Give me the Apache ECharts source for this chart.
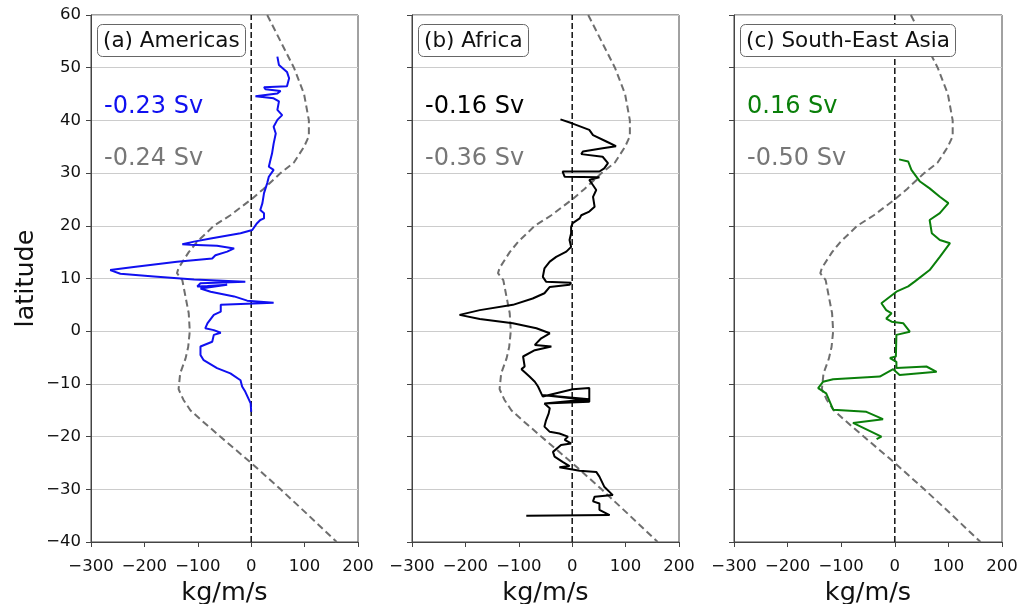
<!DOCTYPE html>
<html>
<head>
<meta charset="utf-8">
<script src="https://cdn.jsdelivr.net/npm/echarts@6/dist/echarts.min.js"></script>
<style>
html,body{margin:0;padding:0;background:#fff;}
#chart{width:1033px;height:604px;}
</style>
</head>
<body>
<div id="chart"></div>
<script>
// Shared climatology (grey dashed) profile
const climLat = [60,55,50,45,40,37,35,32,30,27,25,22,20,17,15,12,11,9.7,6,3.4,0,-3,-5.2,-8,-11,-13,-15,-17,-20,-25,-30,-35,-40];
const climVal = [30,55,80,99,108,108,99,80,55,23,0,-39,-70,-101,-117,-136,-139,-129,-122,-117,-115,-118,-123,-133,-136,-127,-114,-92,-58,0,55,108,160];

// (a) Americas
const amLat = [52.1,50.5,49.2,48,46.5,46.3,45.9,45.6,45.1,44.6,44.2,43.6,42,41,40.1,38.8,37.5,35.6,33.7,32.5,31.2,30.6,29.3,28.1,26.2,24.3,23,22.4,21.4,21.1,20.5,19.2,18.6,17.6,17,16.5,16.4,16.2,15.7,15.4,15.1,14.4,13.8,13.2,12.2,11.6,11.3,10.9,10.4,9.8,9.4,9.1,8.5,8.6,8.8,8.1,7.5,6.6,5.8,5.4,5.0,3.7,3.1,1.5,0.55,0.2,-0.3,-0.7,-2,-2.9,-4.5,-5.5,-7.0,-8,-9.3,-10.5,-11.5,-13.7,-15.3];
const amVal = [49,52,67,71,67,24,27,55,49,8,42,52,49,58,49,42,46,42,39,36,33,42,33,30,24,21,17,24,24,17,11,2,-20,-76,-107,-129,-114,-64,-32,-29,-45,-67,-73,-139,-220,-264,-267,-245,-182,-107,-11,-95,-101,-82,-45,-95,-76,-32,-7.5,42,-57,-57,-70,-82,-86,-70,-57,-70,-73,-95,-95,-89,-64,-39,-20,-17,-11,-1,0];

// (b) Africa
const afLat = [40.2,39.4,38.2,37.2,36,35.1,34.7,34.1,33.6,33.1,31.9,30.9,30.3,30.3,29.3,29.2,28.7,27.7,26.8,25.5,23.6,22.7,22.0,21.4,20.5,19.8,18.6,17.3,16,15.1,14.1,13.2,11.9,10.3,9.4,9.2,8.8,8.4,7.2,6.2,5.0,4.0,3.1,2.3,1.5,0.55,-0.4,-1.35,-2.6,-2.9,-3.6,-4.8,-6.7,-7.2,-8.6,-9.6,-10.5,-11.8,-12.4,-11.0,-10.8,-13.4,-13.7,-12.9,-12.1,-13.1,-13.7,-14.6,-15.6,-16.9,-18.1,-19.1,-19.4,-20,-20.6,-21.3,-21.6,-22.9,-23.8,-24.8,-25.6,-25.8,-26.5,-26.7,-27.6,-29.5,-31.1,-31.4,-32.3,-32.7,-33.9,-34.9,-35];
const afVal = [-22,1,32,39,64,82,57,20,17,57,67,60,51,-18,-14,51,32,39,45,39,42,32,17,14,1,-2,-2,-5,-2,-11,-30,-42,-52,-55,-49,-2,-5,-42,-52,-74,-111,-173,-211,-173,-111,-67,-42,-58,-70,-39,-70,-92,-89,-95,-80,-70,-64,-58,-55,1,32,32,-52,32,-56,32,-52,-42,-44,-49,-52,-42,-24,-8,-14,-2,-21,-36,-33,-18,-5,-24,14,45,51,60,76,42,39,51,51,70,-86];

// (c) South-East Asia
const seaLat = [32.6,32.2,30.6,28.4,27.1,25.5,24.3,22.4,21.1,18.6,17.3,16.7,14.1,11.6,9.4,8.5,7.5,5.3,4.0,3.4,2.4,1.8,1.5,-0.1,-0.7,-4.8,-5.1,-5.8,-7.0,-6.7,-7.7,-8.3,-7.2,-8.6,-9.1,-9.6,-10.8,-11.8,-14.9,-15.3,-16.7,-17.4,-20,-20.5];
const seaVal = [8,25,31,47,65,84,100,84,65,69,84,103,84,65,37,25,3,-25,-16,-6,-16,-6,16,28,3,2,-9,3,3,59,78,9,-3,-28,-115,-134,-143,-128,-115,-53,-22,-78,-25,-34];

const xTicks = [-300,-200,-100,0,100,200];
const yTicks = [-40,-30,-20,-10,0,10,20,30,40,50,60];

const panelTitles = ['(a) Americas','(b) Africa','(c) South-East Asia'];
const svTexts = ['-0.23 Sv','-0.16 Sv','0.16 Sv'];
const svClimTexts = ['-0.24 Sv','-0.36 Sv','-0.50 Sv'];
const lineColors = ['#1010f0','#000000','#0a7f0a'];

const zip = (v, l) => v.map((x, i) => [x, l[i]]);
const profiles = [zip(amVal, amLat), zip(afVal, afLat), zip(seaVal, seaLat)];
const clim = zip(climVal, climLat);

const FONT = 'DejaVu Sans';
const gridLefts = [91, 412, 734];
const gridWidths = [267, 267, 268];
const minus = v => String(v).replace('-', '\u2212');

const grids = [], xAxes = [], yAxes = [], series = [], titles = [];
for (let i = 0; i < 3; i++) {
  grids.push({left: gridLefts[i], top: 15, width: gridWidths[i], height: 527, containLabel: false, outerBoundsMode: 'none',
    show: true, borderColor: '#444', borderWidth: 1, backgroundColor: 'transparent'});
  xAxes.push({
    type: 'value', gridIndex: i, min: xTicks[0], max: xTicks[xTicks.length-1], interval: 100,
    name: 'kg/m/s', nameLocation: 'middle', nameGap: 35,
    nameTextStyle: {fontFamily: FONT, fontSize: 25.5, color: '#111'},
    axisLine: {show: true, onZero: false, lineStyle: {color: '#444', width: 1}},
    axisTick: {show: true, inside: false, length: 5, lineStyle: {color: '#444'}},
    axisLabel: {fontFamily: FONT, fontSize: 16.5, color: '#111', margin: 16, formatter: minus},
    splitLine: {show: false}
  });
  yAxes.push({
    type: 'value', gridIndex: i, min: yTicks[0], max: yTicks[yTicks.length-1], interval: 10,
    name: i === 0 ? 'latitude' : '', nameLocation: 'middle', nameGap: 52,
    nameTextStyle: {fontFamily: FONT, fontSize: 25.5, color: '#111'},
    axisLine: {show: true, onZero: false, lineStyle: {color: '#444', width: 1}},
    axisTick: {show: true, inside: false, length: 5, lineStyle: {color: '#444'}},
    axisLabel: {show: i === 0, fontFamily: FONT, fontSize: 16.5, color: '#111', margin: 10, formatter: minus},
    splitLine: {show: true, lineStyle: {color: '#cccccc', width: 1}}
  });
  series.push({
    type: 'line', xAxisIndex: i, yAxisIndex: i, data: clim, symbol: 'none', smooth: false,
    lineStyle: {color: '#6e6e6e', width: 2, type: [7, 4]}, z: 2, silent: true
  });
  series.push({
    type: 'line', xAxisIndex: i, yAxisIndex: i, data: [[0, yTicks[0]], [0, yTicks[yTicks.length-1]]], symbol: 'none',
    lineStyle: {color: '#111', width: 1.5, type: [6, 3]}, z: 3, silent: true
  });
  series.push({
    type: 'line', xAxisIndex: i, yAxisIndex: i, data: profiles[i], symbol: 'none', smooth: false,
    lineStyle: {color: lineColors[i], width: 2}, z: 4, silent: true
  });
  titles.push({
    text: panelTitles[i], left: gridLefts[i] + 6, top: 24,
    padding: [6, 6, 5, 6], borderColor: '#666', borderWidth: 1, borderRadius: 5, backgroundColor: '#fff',
    textStyle: {fontFamily: FONT, fontSize: 21.5, fontWeight: 'normal', color: '#111'}
  });
  titles.push({
    text: svTexts[i], left: gridLefts[i] + 13, top: 95, padding: 0,
    textStyle: {fontFamily: FONT, fontSize: 24, fontWeight: 'normal', color: lineColors[i]}
  });
  titles.push({
    text: svClimTexts[i], left: gridLefts[i] + 13, top: 147, padding: 0,
    textStyle: {fontFamily: FONT, fontSize: 24, fontWeight: 'normal', color: '#777'}
  });
}

const chart = echarts.init(document.getElementById('chart'), null, {renderer: 'canvas'});
chart.setOption({
  animation: false,
  backgroundColor: '#fff',
  title: titles,
  grid: grids,
  xAxis: xAxes,
  yAxis: yAxes,
  series: series
});
</script>
</body>
</html>
